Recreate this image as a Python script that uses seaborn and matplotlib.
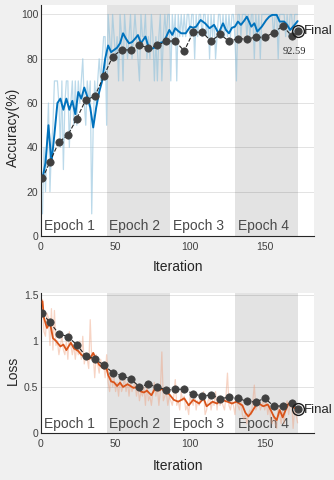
import numpy as np
import pandas as pd
import matplotlib
matplotlib.use("Agg")
import matplotlib.pyplot as plt
import seaborn as sns

sns.set_style("white")
plt.rcParams["font.family"] = ["Liberation Sans", "DejaVu Sans"]

# ---------------- data ----------------
iterations = list(range(1, 173))

acc_raw = [
    10, 40, 20, 40, 60, 20, 40, 50, 70, 70,
    70, 60, 40, 70, 30, 60, 70, 70, 40, 60,
    70, 50, 70, 50, 70, 60, 70, 80, 60, 50,
    70, 60, 70, 10, 50, 70, 60, 70, 80, 70,
    80, 90, 90, 50, 100, 90, 80, 100, 90, 80,
    90, 70, 100, 90, 70, 100, 90, 80, 90, 100,
    80, 90, 100, 90, 80, 70, 100, 90, 90, 100,
    80, 90, 80, 100, 90, 70, 90, 70, 90, 100,
    70, 90, 100, 90, 100, 100, 70, 100, 90, 100,
    70, 100, 90, 100, 90, 100, 90, 100, 100, 90,
    100, 100, 80, 100, 90, 100, 100, 90, 100, 100,
    90, 100, 80, 100, 90, 100, 80, 90, 100, 100,
    90, 100, 90, 100, 90, 100, 90, 100, 100, 90,
    70, 100, 100, 90, 100, 100, 100, 90, 100, 90,
    100, 100, 80, 100, 90, 100, 80, 100, 100, 100,
    100, 100, 100, 100, 100, 90, 100, 100, 80, 100,
    100, 100, 100, 90, 100, 90, 100, 100, 90, 100,
    100, 100,
]

acc_smooth_iter = [1, 3, 5, 7, 9, 11, 13, 15, 17, 19, 21, 23, 25, 27, 29, 31, 33, 35, 37, 39,
                   41, 43, 45, 47, 49, 51, 53, 55, 57, 59, 61, 63, 65, 67, 69, 70, 72, 74, 76, 79,
                   82, 84, 86, 88, 90, 92, 94, 97, 100, 102, 104, 107, 110, 113, 116, 119, 122, 124,
                   126, 128, 130, 132, 134, 136, 138, 141, 143, 145, 148, 151, 153, 155, 158, 160,
                   163, 165, 167, 170, 172]
acc_smooth = [26, 33, 50, 33, 46, 60, 62, 57, 62, 57, 61, 55, 65, 62, 67, 63, 58, 49, 58, 65,
              70, 80, 86, 83, 84, 85, 87, 91.5, 89, 87, 87.5, 89, 90.7, 87, 89, 90, 85.5, 84.5, 85, 87,
              87.6, 90, 93, 90.8, 93.8, 92.5, 91.5, 91.5, 94.5, 94, 94.5, 97.5, 96, 93.8, 95.3, 91.5,
              96, 93, 91.5, 94, 94.5, 96.8, 95.3, 97, 99, 94.5, 96, 92.3, 94.5, 97.5, 99, 99.8,
              99.8, 96.8, 96.8, 95.3, 93, 95.3, 97]

val_iter = [1] + list(range(6, 169, 6))
acc_val = [26, 33.5, 42.5, 45.5, 53, 61.5, 63, 72, 81, 84, 84, 86, 85, 86, 88,
           88, 83.5, 92, 92, 88, 91, 88, 89, 89, 89.7, 89.7, 91.8, 94.8, 90.4]

loss_raw = [
    1.45, 1.10, 1.05, 1.30, 1.25, 0.95, 1.35, 0.90, 1.33, 0.95,
    1.00, 0.85, 0.95, 1.05, 0.90, 0.85, 1.00, 0.80, 1.10, 0.95,
    0.85, 0.95, 0.80, 0.95, 0.85, 1.00, 0.80, 1.05, 0.75, 0.85,
    0.80, 0.70, 1.23, 0.80, 0.85, 0.60, 0.85, 0.75, 0.65, 0.80,
    0.70, 0.75, 0.60, 0.85, 0.55, 0.45, 0.65, 0.50, 0.60, 0.45,
    0.55, 0.40, 0.60, 0.45, 0.50, 0.60, 0.45, 0.55, 0.40, 0.55,
    0.45, 0.50, 0.55, 0.40, 0.50, 0.35, 0.45, 0.40, 0.50, 0.30,
    0.55, 0.35, 0.40, 0.30, 0.45, 0.55, 0.40, 0.50, 0.30, 0.45,
    0.88, 0.35, 0.40, 0.45, 0.30, 0.40, 0.35, 0.30, 0.40, 0.58,
    0.30, 0.35, 0.25, 0.45, 0.35, 0.40, 0.25, 0.30, 0.20, 0.40,
    0.35, 0.30, 0.45, 0.25, 0.35, 0.30, 0.40, 0.35, 0.45, 0.20,
    0.25, 0.35, 0.40, 0.25, 0.35, 0.30, 0.45, 0.25, 0.40, 0.30,
    0.35, 0.30, 0.25, 0.40, 0.65, 0.30, 0.25, 0.35, 0.30, 0.20,
    0.40, 0.30, 0.25, 0.35, 0.20, 0.15, 0.20, 0.10, 0.20, 0.25,
    0.20, 0.35, 0.52, 0.25, 0.30, 0.35, 0.25, 0.30, 0.35, 0.25,
    0.35, 0.20, 0.30, 0.15, 0.10, 0.20, 0.10, 0.05, 0.30, 0.20,
    0.10, 0.25, 0.10, 0.30, 0.35, 0.20, 0.30, 0.35, 0.05, 0.25,
    0.20, 0.11,
]

loss_smooth_iter = [1, 2, 4, 6, 8, 10, 13, 15, 17, 20, 22, 25, 27, 29, 31, 33, 35, 37, 39, 42,
                    44, 45, 47, 49, 51, 53, 55, 58, 62, 65, 67, 69, 71, 74, 77, 79, 81, 83, 86, 89,
                    92, 96, 99, 102, 106, 109, 111, 115, 118, 121, 125, 128, 131, 133, 135, 137, 139,
                    141, 144, 146, 149, 152, 154, 156, 158, 160, 162, 164, 166, 168, 170, 172]
loss_smooth = [1.43, 1.25, 1.14, 1.20, 1.03, 1.00, 0.94, 0.96, 0.90, 0.98, 0.92, 0.89, 0.85, 0.83,
               0.80, 0.81, 0.87, 0.80, 0.74, 0.70, 0.70, 0.63, 0.56, 0.55, 0.51, 0.547, 0.50, 0.53,
               0.49, 0.50, 0.45, 0.44, 0.46, 0.41, 0.50, 0.46, 0.48, 0.45, 0.42, 0.36, 0.34, 0.377,
               0.30, 0.36, 0.32, 0.377, 0.29, 0.34, 0.32, 0.36, 0.34, 0.32, 0.34, 0.32, 0.30, 0.22,
               0.18, 0.22, 0.30, 0.32, 0.29, 0.31, 0.25, 0.18, 0.14, 0.25, 0.17, 0.25, 0.32, 0.30,
               0.27, 0.25]

loss_val = [1.30, 1.20, 1.076, 1.047, 0.957, 0.837, 0.804, 0.739, 0.656, 0.623, 0.587, 0.503,
            0.529, 0.496, 0.47, 0.475, 0.475, 0.424, 0.402, 0.413, 0.373, 0.388, 0.377, 0.344,
            0.337, 0.377, 0.293, 0.293, 0.322]

final_iter = 172
final_acc = 92.59
final_loss = 0.257

epoch_edges = [0, 44, 86.6, 130, 172.3]
epoch_labels = ["Epoch 1", "Epoch 2", "Epoch 3", "Epoch 4"]

acc_yticks = [0, 20, 40, 60, 80, 100]
acc_yticklabels = ["0", "20", "40", "60", "80", "100"]
loss_yticks = [0, 0.5, 1, 1.5]
loss_yticklabels = ["0", "0.5", "1", "1.5"]
xticks = [0, 50, 100, 150]

# ---------------- figure ----------------
W, H = 334, 480
fig = plt.figure(figsize=(W / 100, H / 100), dpi=100, facecolor="#f0f0f0")
ax1 = fig.add_axes([41 / W, (H - 236) / H, 273 / W, 231.5 / H])
ax2 = fig.add_axes([41 / W, (H - 433) / H, 273 / W, 140 / H])

TXT = "#262626"
TICK = "#404040"


def style(ax, ylim, yticks, yticklabels, ylabel, label_y_text, xlabel_off, ylabel_y):
    ax.set_facecolor("white")
    ax.set_xlim(0, 183)
    ax.set_ylim(*ylim)
    for i in range(4):
        if i % 2 == 1:
            ax.axvspan(epoch_edges[i], epoch_edges[i + 1], color="#e3e3e3", lw=0, zorder=0)
        ax.text(epoch_edges[i] + 1.8, label_y_text, epoch_labels[i], fontsize=10,
                color="#4a4a4a", ha="left", va="baseline", zorder=1)
    for yt in yticks[1:]:
        ax.axhline(yt, color="black", alpha=0.13, lw=0.6, zorder=0.5)
    for s in ["top", "right"]:
        ax.spines[s].set_visible(False)
    for s in ["left", "bottom"]:
        ax.spines[s].set_color(TXT)
        ax.spines[s].set_linewidth(0.8)
    ax.set_xticks(xticks)
    ax.set_xticklabels([str(t) for t in xticks])
    ax.set_yticks(yticks)
    ax.set_yticklabels(yticklabels)
    ax.tick_params(direction="in", length=3, width=0.7, color=TXT, labelcolor=TICK,
                   labelsize=7.5)
    ax.tick_params(axis="y", pad=2)
    ax.tick_params(axis="x", pad=4)
    ax.set_xlabel("Iteration", fontsize=10, color=TXT, va="center")
    ax.set_ylabel(ylabel, fontsize=10, color=TXT, va="center")
    ax.yaxis.set_label_coords(-28 / 273, ylabel_y)
    ax.xaxis.set_label_coords(0.5, xlabel_off)


style(ax1, (0, 104.5), acc_yticks, acc_yticklabels, "Accuracy(%)", 2.7, -31 / 231.5, 0.47)
style(ax2, (0, 1.52), loss_yticks, loss_yticklabels, "Loss", 0.055, -33 / 140, 0.45)

# ----- accuracy -----
sns.lineplot(x=iterations, y=acc_raw, ax=ax1, color="#8ec1dc", alpha=0.6, linewidth=0.9,
             estimator=None, sort=False, zorder=2)
sns.lineplot(x=acc_smooth_iter, y=acc_smooth, ax=ax1, color="#0072BD", linewidth=1.4,
             estimator=None, sort=False, zorder=3)
sns.lineplot(x=val_iter + [final_iter], y=acc_val + [final_acc], ax=ax1, color="#262626",
             linewidth=0.8, linestyle="--", estimator=None, sort=False, zorder=4)
sns.scatterplot(x=val_iter, y=acc_val, ax=ax1, color="#404040", s=28, edgecolor="#404040",
                linewidth=0.5, zorder=5)
ax1.plot([final_iter], [final_acc], "o", ms=5, color="#404040", zorder=6)
ax1.plot([final_iter], [final_acc], "o", ms=8.5, mfc="none", mec="#1a1a1a", mew=1.0, zorder=6)
ax1.text(176.5, final_acc, "Final", fontsize=9.5, color=TXT, ha="left", va="center",
         clip_on=False)
ax1.text(170, 83.5, f"{final_acc:.2f}", fontsize=7.5, color=TXT, ha="center", va="center",
         family=["Liberation Serif", "DejaVu Serif"])

# ----- loss -----
sns.lineplot(x=iterations, y=loss_raw, ax=ax2, color="#eea07e", alpha=0.45, linewidth=0.9,
             estimator=None, sort=False, zorder=2)
sns.lineplot(x=loss_smooth_iter, y=loss_smooth, ax=ax2, color="#D95319", linewidth=1.3,
             estimator=None, sort=False, zorder=3)
sns.lineplot(x=val_iter + [final_iter], y=loss_val + [final_loss], ax=ax2, color="#262626",
             linewidth=0.8, linestyle="--", estimator=None, sort=False, zorder=4)
sns.scatterplot(x=val_iter, y=loss_val, ax=ax2, color="#404040", s=28, edgecolor="#404040",
                linewidth=0.5, zorder=5)
ax2.plot([final_iter], [final_loss], "o", ms=5, color="#404040", zorder=6)
ax2.plot([final_iter], [final_loss], "o", ms=8.5, mfc="none", mec="#1a1a1a", mew=1.0, zorder=6)
ax2.text(176.5, 0.245, "Final", fontsize=9.5, color=TXT, ha="left", va="center",
         clip_on=False)

fig.savefig("out.png", dpi=100, facecolor=fig.get_facecolor())
